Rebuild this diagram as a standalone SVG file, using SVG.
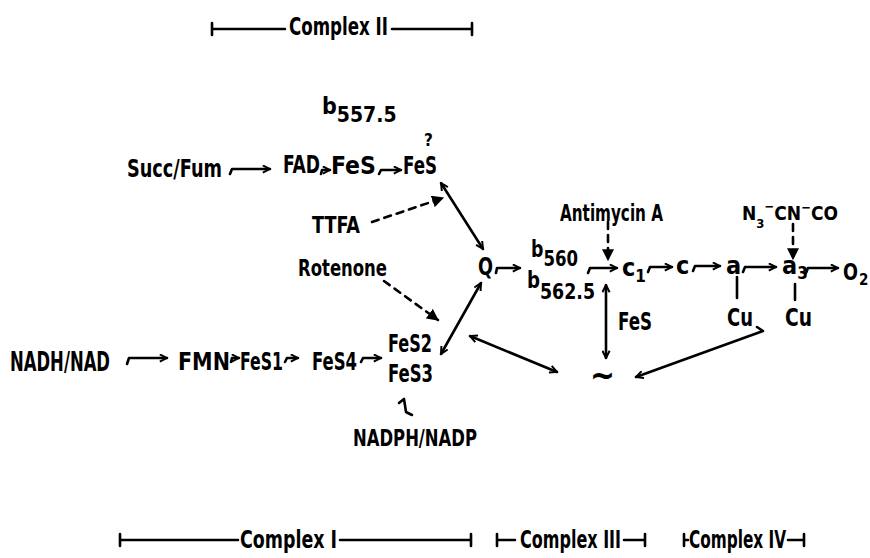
<svg xmlns="http://www.w3.org/2000/svg" width="870" height="558" viewBox="0 0 870 558">
<style>
.t{font-family:"DejaVu Sans Condensed","DejaVu Sans","Liberation Sans",sans-serif;font-weight:bold;font-size:25px;fill:#000}
.m{font-size:23px}
.s{font-size:17px}
.x{font-size:15px}
.ln{stroke:#000;stroke-width:2.6;fill:none;stroke-linecap:round;stroke-linejoin:round}
.ds{stroke-dasharray:7 6}
.h{marker-end:url(#ah)}
.hh{marker-start:url(#ah);marker-end:url(#ah)}
.hf{marker-end:url(#fh)}
</style>
<defs>
<marker id="ah" viewBox="0 0 10 10" refX="9" refY="5" markerWidth="9" markerHeight="9" markerUnits="userSpaceOnUse" orient="auto-start-reverse"><path d="M1,1 L9,5 L1,9" fill="none" stroke="#000" stroke-width="2.2"/></marker>
<marker id="fh" viewBox="0 0 10 10" refX="9" refY="5" markerWidth="12" markerHeight="12" markerUnits="userSpaceOnUse" orient="auto"><path d="M0,0 L10,5 L0,10 z" fill="#000"/></marker>
</defs>
<rect width="870" height="558" fill="#fff"/>

<g id="complex2-bar">
<path class="ln" d="M212,29 L285,29 M392,29 L472,29 M212,23 L212,35 M472,23 L472,35"/>
<text class="t" x="289" y="35" textLength="99" lengthAdjust="spacingAndGlyphs">Complex II</text>
</g>
<g id="b5575"><text class="t m" x="322" y="114">b<tspan dy="8" font-size="21">557.5</tspan></text></g>
<g id="succ"><text class="t" x="127" y="177" textLength="95" lengthAdjust="spacingAndGlyphs">Succ/Fum</text></g>
<g id="fad"><text class="t" x="283" y="173" textLength="37" lengthAdjust="spacingAndGlyphs">FAD</text></g>
<g id="fes-a"><text class="t" x="331" y="174" textLength="45" lengthAdjust="spacingAndGlyphs">FeS</text></g>
<g id="fes-b"><text class="t s" x="424" y="146">?</text><text class="t" x="403" y="174" textLength="34" lengthAdjust="spacingAndGlyphs">FeS</text></g>
<g id="ttfa"><text class="t m" x="312" y="233" textLength="48" lengthAdjust="spacingAndGlyphs">TTFA</text></g>
<g id="rotenone"><text class="t m" x="298" y="276" textLength="89" lengthAdjust="spacingAndGlyphs">Rotenone</text></g>
<g id="q"><text class="t" x="478" y="275" textLength="15" lengthAdjust="spacingAndGlyphs">Q</text></g>
<g id="b560"><text class="t m" x="531" y="257" textLength="47" lengthAdjust="spacingAndGlyphs">b<tspan dy="9" font-size="22">560</tspan></text></g>
<g id="b5625"><text class="t m" x="527" y="288" textLength="68" lengthAdjust="spacingAndGlyphs">b<tspan dy="11" font-size="22">562.5</tspan></text></g>
<g id="antimycin"><text class="t m" x="560" y="221" textLength="103" lengthAdjust="spacingAndGlyphs">Antimycin A</text></g>
<g id="c1"><text class="t" x="622" y="276">c<tspan class="s" dy="6">1</tspan></text></g>
<g id="c"><text class="t" x="676" y="274">c</text></g>
<g id="a"><text class="t" x="726" y="274">a</text></g>
<g id="a3"><text class="t" x="782" y="274">a<tspan class="s" dy="5">3</tspan></text></g>
<g id="o2"><text class="t m" x="843" y="280" textLength="15" lengthAdjust="spacingAndGlyphs">O</text><text class="t x" x="859" y="285">2</text></g>
<g id="inhib4"><text class="t" x="742" y="220" style="font-size:19px">N<tspan font-size="13" dy="8">3</tspan><tspan font-size="13" dy="-17">−</tspan><tspan dy="9">CN</tspan><tspan font-size="13" dy="-8">−</tspan><tspan dy="8">CO</tspan></text></g>
<g id="cu-a"><text class="t" x="727" y="326" textLength="26" lengthAdjust="spacingAndGlyphs">Cu</text></g>
<g id="cu-a3"><text class="t" x="785" y="326" textLength="27" lengthAdjust="spacingAndGlyphs">Cu</text></g>
<g id="fes-iii"><text class="t" x="618" y="330" textLength="34" lengthAdjust="spacingAndGlyphs">FeS</text></g>
<g id="squiggle"><text class="t" x="590" y="387" style="font-size:36px" textLength="25" lengthAdjust="spacingAndGlyphs">~</text></g>
<g id="nadh"><text class="t" x="10" y="371" style="font-size:26px" textLength="100" lengthAdjust="spacingAndGlyphs">NADH/NAD</text></g>
<g id="fmn"><text class="t" x="178" y="370" textLength="52" lengthAdjust="spacingAndGlyphs">FMN</text></g>
<g id="fes1"><text class="t" x="240" y="370" textLength="43" lengthAdjust="spacingAndGlyphs">FeS1</text></g>
<g id="fes4"><text class="t" x="312" y="370" textLength="45" lengthAdjust="spacingAndGlyphs">FeS4</text></g>
<g id="fes2"><text class="t" x="388" y="352" textLength="44" lengthAdjust="spacingAndGlyphs">FeS2</text></g>
<g id="fes3"><text class="t" x="388" y="382" textLength="45" lengthAdjust="spacingAndGlyphs">FeS3</text></g>
<g id="nadph"><text class="t m" x="353" y="446" textLength="124" lengthAdjust="spacingAndGlyphs">NADPH/NADP</text></g>

<g id="complex1-bar">
<path class="ln" d="M120,540 L238,540 M340,540 L471,540 M120,534 L120,546 M471,534 L471,546"/>
<text class="t" x="240" y="548" textLength="97" lengthAdjust="spacingAndGlyphs">Complex I</text>
</g>
<g id="complex3-bar">
<path class="ln" d="M497,540 L515,540 M624,540 L645,540 M497,534 L497,546 M645,534 L645,546"/>
<text class="t" x="520" y="548" textLength="101" lengthAdjust="spacingAndGlyphs">Complex III</text>
</g>
<g id="complex4-bar">
<path class="ln" d="M684,540 L688,540 M788,540 L804,540 M684,534 L684,546 M804,534 L804,546"/>
<text class="t" x="689" y="548" textLength="97" lengthAdjust="spacingAndGlyphs">Complex IV</text>
</g>

<g id="connectors">
<path class="ln h" d="M230,174 L232,169 L270,169"/>
<path class="ln h" d="M321,174 L322,170 L330,170"/>
<path class="ln h" d="M379,174 L381,170 L401,170"/>
<path class="ln ds hf" d="M372,222 L443,198"/>
<path class="ln hh" d="M441,183 L483,249"/>
<path class="ln ds hf" d="M384,281 L438,320"/>
<path class="ln hh" d="M441,354 L481,283"/>
<path class="ln h" d="M496,273 L497,268 L520,268"/>
<path class="ln ds hf" d="M608,222 L608,260"/>
<path class="ln h" d="M588,273 L590,268 L617,268"/>
<path class="ln hh" d="M606,285 L606,358"/>
<path class="ln h" d="M648,272 L650,267 L672,267"/>
<path class="ln h" d="M693,271 L695,266 L720,266"/>
<path class="ln h" d="M743,272 L745,267 L776,267"/>
<path class="ln h" d="M806,273 L808,268 L838,268"/>
<path class="ln ds hf" d="M793,224 L793,259"/>
<path class="ln" d="M737,277 L737,298 M795,284 L795,300"/>
<path class="ln h" d="M757,327 L763,331 L636,377"/>
<path class="ln hh" d="M557,372 L470,336"/>
<path class="ln h" d="M127,364 L129,358 L167,358"/>
<path class="ln h" d="M231,362 L232,358 L239,358"/>
<path class="ln h" d="M285,362 L287,358 L298,358"/>
<path class="ln h" d="M361,362 L363,358 L381,358"/>
<path class="ln" d="M399,403 L404,399 L406,412 L412,415"/>
</g>
</svg>
